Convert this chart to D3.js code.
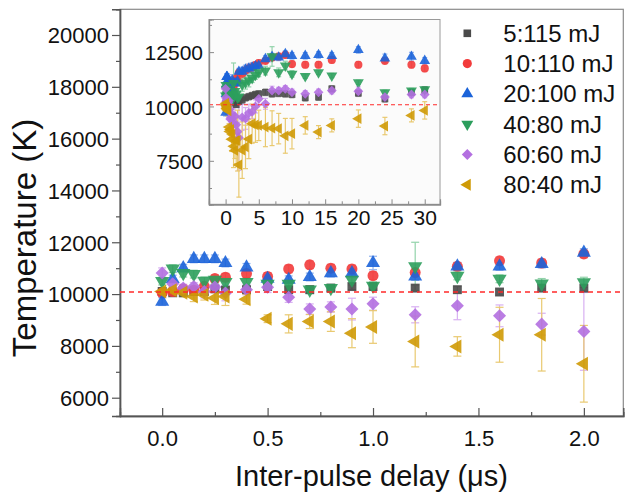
<!DOCTYPE html>
<html><head><meta charset="utf-8">
<script src="https://cdn.jsdelivr.net/npm/d3@7"></script>
<style>body{margin:0;background:#fff} svg{font-family:"Liberation Sans",Arial,sans-serif}</style>
</head><body><svg id="c" width="626" height="494"></svg>
<script>
// ---- data ----
const delays = [0,0.05,0.1,0.15,0.2,0.25,0.3,0.4,0.5,0.6,0.7,0.8,0.9,1.0,1.2,1.4,1.6,1.8,2.0];
const insetExtraDelays = [2.5,3,3.5,4,4.5,5,6,7,8,9,10,12,14,16,20,24,28,30];
const seriesNames = ["5:115 mJ","10:110 mJ","20:100 mJ","40:80 mJ","60:60 mJ","80:40 mJ"];

const temp5_115  = [10100,10050,10050,10100,10100,10200,10150,10170,10290,10170,10170,10230,10290,10290,10230,10170,10080,10230,10230];
const temp10_110 = [10050,10100,10200,10150,10300,10600,10650,10790,10680,10970,11130,11000,10970,10710,10830,11070,11285,11200,11550];
const temp20_100 = [9710,10580,11000,11360,11360,11360,11200,11030,10590,10550,10660,10810,10810,11200,10680,11070,11070,11160,11600];
const temp40_80  = [10500,10980,10810,10770,10510,10550,10460,10460,10390,10390,10170,10230,10550,10320,11070,10700,10590,10400,10450];
const temp60_60  = [10810,10400,10230,10290,10100,10270,10040,10170,10260,9880,9420,9500,9420,9630,9200,9550,9160,8840,8560];
const temp80_40  = [10100,10150,10050,9910,9970,9850,9910,9800,9050,8850,8940,8940,8490,8730,8170,7980,8430,8430,7310];

const err5_115  = [120,100,100,100,100,120,120,120,120,120,120,120,120,120,120,120,120,120,120];
const err10_110 = [150,150,150,150,150,150,150,150,150,150,150,150,150,150,150,150,150,150,150];
const err20_100 = [150,150,150,150,150,150,150,150,150,150,150,150,150,260,150,150,150,150,150];
const err40_80  = [150,150,150,150,150,150,150,150,150,150,150,150,200,150,930,150,150,200,200];
const err60_60  = [200,150,150,150,250,200,300,200,200,200,200,200,420,250,310,540,420,420,1500];
const err80_40  = [150,150,150,200,200,250,350,190,150,350,270,380,560,630,980,375,1060,1400,1480];

const inset5_115  = [10300,10400,10450,10500,10550,10580,10650,10580,10600,10580,10550,10400,10430,10810,10610,10350,10650,10760];
const inset10_110 = [11500,11650,11750,11800,11900,12000,12100,12250,12300,12370,11950,11920,11920,12140,11920,12100,11920,11750];
const inset20_100 = [11600,11700,11750,11800,11850,11880,12180,12290,12260,12410,12330,12330,12370,12330,12600,12210,12290,12100];
const inset40_80  = [11000,11100,11200,11300,11450,11570,11650,12300,11570,11880,11500,11390,11570,11420,11110,10650,10730,10780];
const inset60_60  = [9500,9450,9700,9750,10000,10350,10120,10730,10730,10810,10650,10580,10650,10730,10700,10430,10550,10550];
const inset80_40  = [7990,8140,8500,9210,9150,9130,9050,9000,8980,8650,8750,9130,8820,9130,9440,9100,9590,9820];

const insetErr5_115  = [150,150,150,150,150,150,150,150,150,150,150,150,150,150,150,150,150,150];
const insetErr10_110 = [200,200,200,200,150,150,150,150,150,150,150,150,150,150,150,150,150,150];
const insetErr20_100 = [200,200,200,200,150,150,150,150,150,150,150,150,150,150,150,200,200,150];
const insetErr40_80  = [300,300,300,200,200,200,200,450,200,200,150,100,100,100,100,100,100,100];
const insetErr60_60  = [600,500,400,300,300,300,250,200,150,150,150,150,150,150,200,150,150,150];
const insetErr80_40  = [1300,1000,900,900,800,700,900,800,700,800,700,400,300,300,400,400,300,400];

const refTemp = 10080;
const mainYTicks = [6000,8000,10000,12000,14000,16000,18000,20000];
const mainXTicks = [0,0.5,1.0,1.5,2.0];
const insetYTicks = [7500,10000,12500];
const insetXTicks = [0,5,10,15,20,25,30];

// ---- styles ----
const colors = ["#4a4a4a","#f23b3b","#1b63d9","#2c9e5c","#b36fe0","#cf9a06"];
const errColors = ["#9a9a9a","#f7a3a3","#8fb1ee","#93d3ab","#d8b0f2","#e9c970"];
const shapes = ["square","circle","up","down","diamond","left"];

const mainT = [temp5_115,temp10_110,temp20_100,temp40_80,temp60_60,temp80_40];
const mainE = [err5_115,err10_110,err20_100,err40_80,err60_60,err80_40];
const insT = [inset5_115,inset10_110,inset20_100,inset40_80,inset60_60,inset80_40];
const insE = [insetErr5_115,insetErr10_110,insetErr20_100,insetErr40_80,insetErr60_60,insetErr80_40];

const svg = d3.select("#c");

function symPath(shape, size){
  switch(shape){
    case "square": return {d:d3.symbol(d3.symbolSquare,size)(), rot:0};
    case "circle": return {d:d3.symbol(d3.symbolCircle,size)(), rot:0};
    case "up": return {d:d3.symbol(d3.symbolTriangle,size)(), rot:0};
    case "down": return {d:d3.symbol(d3.symbolTriangle,size)(), rot:180};
    case "diamond": return {d:d3.symbol(d3.symbolSquare,size)(), rot:45};
    case "left": return {d:d3.symbol(d3.symbolTriangle,size)(), rot:-90};
  }
}
const sizeMain = {square:80,circle:95,up:85,down:88,diamond:85,left:85};
const sizeInset = {square:46,circle:52,up:50,down:52,diamond:48,left:50};
const sizeLegend = {square:58,circle:66,up:62,down:62,diamond:60,left:62};

// ---- main plot ----
const x = d3.scaleLinear().domain([-0.2,2.187]).range([120,623.3]);
const y = d3.scaleLinear().domain([5294,20992]).range([416,9.3]);

svg.append("rect").attr("x",120).attr("y",9.3).attr("width",623.3-120).attr("height",416-9.3)
  .attr("fill","#fff").attr("stroke","#8a8a8a").attr("stroke-width",1.2);

const gy = svg.append("g").attr("transform","translate(120,0)")
  .call(d3.axisLeft(y).tickValues(mainYTicks).tickSize(8).tickPadding(3).tickFormat(d3.format("d")));
gy.append("g").call(d3.axisLeft(y).tickValues(d3.range(7000,20000,2000)).tickSize(4).tickFormat(""));
const gx = svg.append("g").attr("transform","translate(0,416)")
  .call(d3.axisBottom(x).tickValues(mainXTicks).tickSize(-8).tickPadding(14).tickFormat(d3.format(".1f")));
gx.append("g").call(d3.axisBottom(x).tickValues([0.25,0.75,1.25,1.75]).tickSize(-4).tickFormat(""));
[gx,gy].forEach(g=>{
  g.selectAll("path.domain").attr("stroke","#555").attr("stroke-width",1.4);
  g.selectAll("line").attr("stroke","#555").attr("stroke-width",1.2);
  g.selectAll("text").attr("font-size",22).attr("fill","#111").attr("font-family","Liberation Sans, Arial, sans-serif");
});
gy.selectAll(".tick text").attr("dy","0.36em");

function drawSeries(g, xs, ys, xArr, tArr, eArr, sizes, cap){
  for(let s=0;s<6;s++){
    const pts = xArr.map((d,i)=>({x:d,t:tArr[s][i],e:eArr[s][i]}));
    const eg = g.append("g").attr("stroke",errColors[s]).attr("stroke-width",1.2);
    pts.forEach(p=>{
      const cx = xs(p.x), y1 = ys(p.t+p.e), y2 = ys(p.t-p.e);
      eg.append("line").attr("x1",cx).attr("x2",cx).attr("y1",y1).attr("y2",y2);
      eg.append("line").attr("x1",cx-cap).attr("x2",cx+cap).attr("y1",y1).attr("y2",y1);
      eg.append("line").attr("x1",cx-cap).attr("x2",cx+cap).attr("y1",y2).attr("y2",y2);
    });
  }
  for(let s=0;s<6;s++){
    const sp = symPath(shapes[s], sizes[shapes[s]]);
    const pts = xArr.map((d,i)=>({x:d,t:tArr[s][i]}));
    g.append("g").selectAll("path").data(pts).join("path")
      .attr("d",sp.d)
      .attr("transform",p=>`translate(${xs(p.x)},${ys(p.t)}) rotate(${sp.rot})`)
      .attr("fill",colors[s]).attr("fill-opacity",0.9);
  }
}
const mainG = svg.append("g");
drawSeries(mainG, x, y, delays, mainT, mainE, sizeMain, 4);

svg.append("line").attr("x1",120).attr("x2",623.3).attr("y1",y(refTemp)).attr("y2",y(refTemp))
  .attr("stroke","#ff2a2a").attr("stroke-width",1.3).attr("stroke-dasharray","5,4");

// ---- inset ----
const xi = d3.scaleLinear().domain([-2.5,32.3]).range([209,440]);
const yi = d3.scaleLinear().domain([5500,14000]).range([204.3,19.5]);
svg.append("rect").attr("x",209).attr("y",19.5).attr("width",440-209).attr("height",204.3-19.5)
  .attr("fill","#fbfbfb").attr("stroke","#9a9a9a").attr("stroke-width",1);
const insXAll = delays.concat(insetExtraDelays);
const insTAll = mainT.map((a,s)=>a.concat(insT[s]));
const insEAll = mainE.map((a,s)=>a.concat(insE[s]));
const insG = svg.append("g");
drawSeries(insG, xi, yi, insXAll, insTAll, insEAll, sizeInset, 2.5);
svg.append("line").attr("x1",209).attr("x2",440).attr("y1",yi(refTemp)).attr("y2",yi(refTemp))
  .attr("stroke","#ff2a2a").attr("stroke-width",1.2).attr("stroke-dasharray","4,3");

const giy = svg.append("g").attr("transform","translate(209,0)")
  .call(d3.axisLeft(yi).tickValues(insetYTicks).tickSize(-5).tickPadding(6).tickFormat(d3.format("d")));
giy.append("g").call(d3.axisLeft(yi).tickValues([6250,8750,11250,13750]).tickSize(-3).tickFormat(""));
const gix = svg.append("g").attr("transform","translate(0,204.3)")
  .call(d3.axisBottom(xi).tickValues(insetXTicks).tickSize(-5).tickPadding(6).tickFormat(d3.format("d")));
gix.append("g").call(d3.axisBottom(xi).tickValues([2.5,7.5,12.5,17.5,22.5,27.5]).tickSize(-3).tickFormat(""));
[giy,gix].forEach(g=>{
  g.selectAll("path.domain").attr("stroke","#8a8a8a").attr("stroke-width",1.2);
  g.selectAll("line").attr("stroke","#8a8a8a").attr("stroke-width",1);
  g.selectAll("text").attr("font-size",21).attr("fill","#111").attr("font-family","Liberation Sans, Arial, sans-serif");
});
giy.selectAll(".tick text").attr("dy","0.36em");

// ---- legend ----
const lg = svg.append("g");
seriesNames.forEach((n,s)=>{
  const cy = 33.3 + s*30.3;
  const sp = symPath(shapes[s], sizeLegend[shapes[s]]);
  lg.append("path").attr("d",sp.d).attr("transform",`translate(467.3,${cy}) rotate(${sp.rot})`)
    .attr("fill",colors[s]);
  lg.append("text").attr("x",503.3).attr("y",cy+8.5).attr("font-size",24).attr("fill","#111").text(n);
});

// ---- titles ----
svg.append("text").attr("x",371.5).attr("y",486).attr("text-anchor","middle")
  .attr("font-size",29).attr("fill","#111").text("Inter-pulse delay (μs)");
svg.append("text").attr("transform","translate(36,238) rotate(-90)").attr("text-anchor","middle")
  .attr("font-size",33).attr("fill","#111").text("Temperature (K)");
</script></body></html>
